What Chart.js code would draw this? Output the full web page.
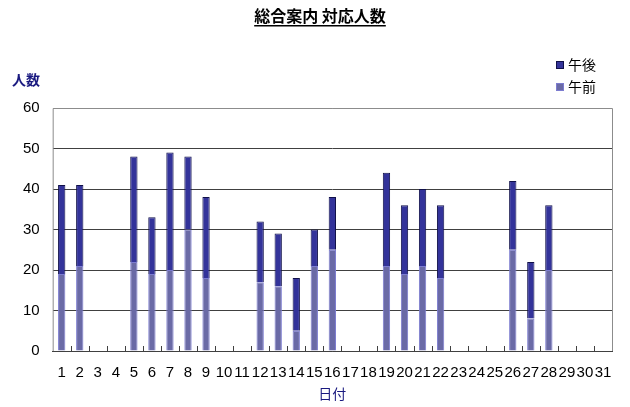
<!DOCTYPE html>
<html>
<head>
<meta charset="utf-8">
<script src="https://cdn.jsdelivr.net/npm/chart.js@4"></script>
<style>
    html, body { margin: 0; padding: 0; background: #fff; }
    #wrap { width: 630px; height: 407px; }
</style>
</head>
<body>
<div id="wrap"><canvas id="chart"></canvas></div>
<script>
const days = [];
for (let d = 1; d <= 31; d++) days.push(String(d));

// 午前 (morning) counts per day
const morning = [19, 21, null, null, 22, 19, 20, 30, 18, null, null, 17, 16, 5, 21, 25, null, null,
    21, 19, 21, 18, null, null, null, 25, 8, 20, null, null, null];
// 午後 (afternoon) counts per day
const afternoon = [22, 20, null, null, 26, 14, 29, 18, 20, null, null, 15, 13, 13, 9, 13, null, null,
    23, 17, 19, 18, null, null, null, 17, 14, 16, null, null, null];

const yTicks = [0, 10, 20, 30, 40, 50, 60];
const chartTitle = "総合案内 対応人数";
const yTitle = "人数";
const xTitle = "日付";

const jpFont = "'Noto Sans CJK JP', sans-serif";
const numFont = "'Liberation Sans', Arial, sans-serif";

// extra drawing: frame, inner ticks, title with underline, axis titles, legend top right
const decorPlugin = {
    id: "decor",
    beforeDatasetsDraw(chart) {
        const {ctx, chartArea} = chart;
        const x = chart.scales.x;
        ctx.save();
        ctx.strokeStyle = "#8c8c8c";
        ctx.lineWidth = 1;
        ctx.beginPath();
        ctx.moveTo(chartArea.left + 0.5, chartArea.bottom);
        ctx.lineTo(chartArea.left + 0.5, chartArea.top + 0.5);
        ctx.lineTo(chartArea.right + 0.5, chartArea.top + 0.5);
        ctx.lineTo(chartArea.right + 0.5, chartArea.bottom);
        ctx.stroke();

        // small ticks between days, pointing up
        ctx.strokeStyle = "#404040";
        ctx.beginPath();
        const half = (x.getPixelForValue(1) - x.getPixelForValue(0)) / 2;
        for (let i = 0; i < days.length - 1; i++) {
            const px = Math.round(x.getPixelForValue(i) + half) + 0.5;
            ctx.moveTo(px, chartArea.bottom);
            ctx.lineTo(px, chartArea.bottom - 5);
        }
        ctx.stroke();
        ctx.restore();
    },
    afterDraw(chart) {
        const {ctx, chartArea} = chart;
        ctx.save();
        // title
        ctx.font = "bold 16px " + jpFont;
        ctx.fillStyle = "#000";
        ctx.textAlign = "center";
        ctx.textBaseline = "middle";
        const tx = 320, ty = 16;
        ctx.fillText(chartTitle, tx, ty);
        const w = ctx.measureText(chartTitle).width;
        ctx.fillRect(tx - w / 2, ty + 9, w, 1.5);

        // x title
        ctx.font = "14px " + jpFont;
        ctx.fillStyle = "#1a1a80";
        ctx.fillText(xTitle, (chartArea.left + chartArea.right) / 2, 394);

        // y title
        ctx.font = "bold 14px " + jpFont;
        ctx.textAlign = "left";
        ctx.fillText(yTitle, 12, 80);

        // legend, last dataset first
        ctx.font = "14px " + jpFont;
        const sets = chart.data.datasets.slice().reverse();
        sets.forEach((ds, i) => {
            const y = 65 + i * 22;
            ctx.fillStyle = ds.backgroundColor;
            ctx.fillRect(556, y - 4, 8, 8);
            ctx.strokeStyle = ds.borderColor;
            ctx.lineWidth = 1;
            ctx.strokeRect(556.5, y - 3.5, 7, 7);
            ctx.fillStyle = "#000";
            ctx.fillText(ds.label, 568, y);
        });
        ctx.restore();
    }
};

new Chart(document.getElementById("chart"), {
    type: "bar",
    data: {
        labels: days,
        datasets: [
            {
                label: "午前",
                data: morning,
                backgroundColor: "#6a6aa6",
                borderColor: "#7c7cd0",
                borderWidth: 1,
                barPercentage: 0.9,
                categoryPercentage: 0.45
            },
            {
                label: "午後",
                data: afternoon,
                backgroundColor: "#33339a",
                borderColor: "#10104a",
                borderWidth: 1,
                barPercentage: 0.9,
                categoryPercentage: 0.45
            }
        ]
    },
    options: {
        responsive: true,
        maintainAspectRatio: false,
        animation: false,
        devicePixelRatio: 1,
        layout: {
            padding: {top: 108, left: 10, right: 18, bottom: 20}
        },
        plugins: {
            legend: {display: false},
            title: {display: false},
            tooltip: {enabled: false}
        },
        scales: {
            x: {
                stacked: true,
                grid: {display: false},
                border: {color: "#404040"},
                ticks: {
                    color: "#000",
                    font: {family: numFont, size: 15},
                    padding: 5,
                    maxRotation: 0,
                    autoSkip: false
                }
            },
            y: {
                stacked: true,
                min: 0,
                max: 60,
                afterBuildTicks(scale) {
                    scale.ticks = yTicks.map(v => ({value: v}));
                },
                grid: {
                    drawTicks: false,
                    color: ctx => (ctx.tick && ctx.tick.value === 60) ? "#b0b0b0" : "#404040"
                },
                border: {display: false},
                ticks: {
                    color: "#000",
                    font: {family: numFont, size: 15},
                    padding: 13
                }
            }
        }
    },
    plugins: [decorPlugin]
});
</script>
</body>
</html>
